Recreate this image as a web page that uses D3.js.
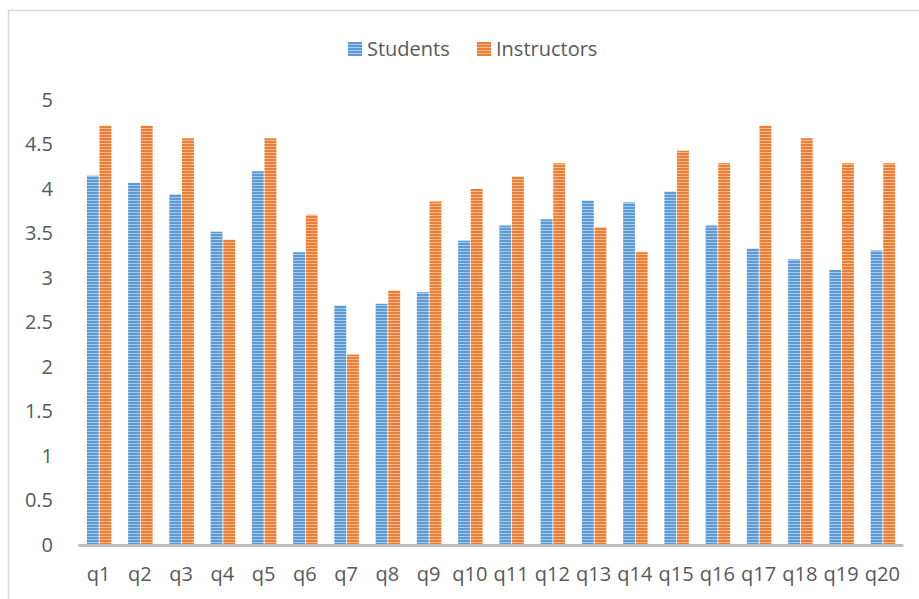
<!DOCTYPE html>
<html>
<head>
<meta charset="utf-8">
<script src="https://cdn.jsdelivr.net/npm/d3@7/dist/d3.min.js"></script>
<style>
  body { margin: 0; background: #fff; }
  text { font-family: "Open Sans", sans-serif; fill: #595959; }
</style>
</head>
<body>
<div id="chart"></div>
<script>
const categories = ['q1','q2','q3','q4','q5','q6','q7','q8','q9','q10','q11','q12','q13','q14','q15','q16','q17','q18','q19','q20'];
const students = [4.15, 4.07, 3.94, 3.52, 4.20, 3.29, 2.69, 2.71, 2.84, 3.42, 3.59, 3.66, 3.87, 3.85, 3.97, 3.59, 3.33, 3.21, 3.09, 3.31];
const instructors = [4.71, 4.71, 4.57, 3.43, 4.57, 3.71, 2.14, 2.86, 3.86, 4.00, 4.14, 4.29, 3.57, 3.29, 4.43, 4.29, 4.71, 4.57, 4.29, 4.29];
const yTicks = [0, 0.5, 1, 1.5, 2, 2.5, 3, 3.5, 4, 4.5, 5];
const seriesNames = ['Students', 'Instructors'];

const width = 919, height = 599;
const margin = { top: 100, right: 16, bottom: 54, left: 78 };

const svg = d3.select('#chart')
  .append('svg')
  .attr('width', width)
  .attr('height', height);

// stripe patterns like the original fills
const colors = { Students: ['#5b9bd5', '#a9c9ea'], Instructors: ['#ed7d31', '#f6bb94'] };
const defs = svg.append('defs');
seriesNames.forEach(name => {
  const p = defs.append('pattern')
    .attr('id', 'pat-' + name)
    .attr('patternUnits', 'userSpaceOnUse')
    .attr('width', 4).attr('height', 3);
  p.append('rect').attr('width', 4).attr('height', 3).attr('fill', colors[name][0]);
  p.append('rect').attr('y', 2).attr('width', 4).attr('height', 1).attr('fill', colors[name][1]);
});

// chart border
svg.append('rect')
  .attr('x', 8.5).attr('y', 10.5)
  .attr('width', 960).attr('height', 640)
  .attr('fill', 'none')
  .attr('stroke', '#d9d9d9')
  .attr('stroke-width', 1.5);

const x = d3.scaleBand()
  .domain(categories)
  .range([margin.left, width - margin.right]);

const y = d3.scaleLinear()
  .domain([0, 5])
  .range([height - margin.bottom, margin.top]);

const barW = 11.5, gap = 1.5;
const inner = d3.scaleBand()
  .domain(seriesNames)
  .range([0, barW * 2 + gap])
  .paddingInner(gap / (barW * 2 + gap));

const rows = categories.map((c, i) => ({ cat: c, Students: students[i], Instructors: instructors[i] }));

const groups = svg.append('g')
  .selectAll('g')
  .data(rows)
  .join('g')
  .attr('transform', d => `translate(${x(d.cat) + x.bandwidth() / 2 - (barW * 2 + gap) / 2 + 0.5},0)`);

groups.selectAll('rect')
  .data(d => seriesNames.map(s => ({ key: s, value: d[s] })))
  .join('rect')
  .attr('x', d => inner(d.key))
  .attr('width', inner.bandwidth())
  .attr('y', d => y(d.value))
  .attr('height', d => y(0) - y(d.value))
  .attr('fill', d => `url(#pat-${d.key})`);

// y axis labels
const yAxis = svg.append('g')
  .attr('transform', `translate(${margin.left - 22},0)`)
  .call(d3.axisLeft(y).tickValues(yTicks).tickFormat(d3.format('')).tickSize(0));
yAxis.select('.domain').remove();
yAxis.selectAll('text')
  .attr('font-size', 20)
  .attr('font-family', '"Open Sans", sans-serif')
  .attr('fill', '#595959');

// x axis
const xAxis = svg.append('g')
  .attr('transform', `translate(0,${y(0)})`)
  .call(d3.axisBottom(x).tickSize(0).tickPadding(22));
xAxis.select('.domain')
  .attr('stroke', '#bfbfbf')
  .attr('stroke-width', 3);
xAxis.selectAll('text')
  .attr('font-size', 20)
  .attr('font-family', '"Open Sans", sans-serif')
  .attr('fill', '#595959');

// legend
const legend = svg.append('g').attr('transform', 'translate(348,42)');
const legendX = [0, 129];
seriesNames.forEach((s, i) => {
  const g = legend.append('g').attr('transform', `translate(${legendX[i]},0)`);
  g.append('rect').attr('width', 14).attr('height', 14).attr('fill', `url(#pat-${s})`);
  g.append('text').attr('x', 19).attr('y', 14).attr('font-size', 20).text(s);
});
</script>
</body>
</html>
